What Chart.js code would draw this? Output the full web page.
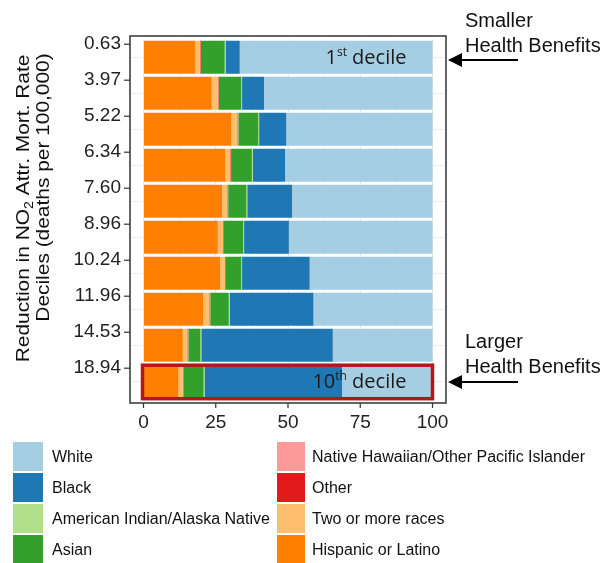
<!DOCTYPE html>
<html>
<head>
<meta charset="utf-8">
<script src="https://cdn.jsdelivr.net/npm/chart.js@4.4.1/dist/chart.umd.min.js"></script>
<style>
  body { margin: 0; background: #fff; }
  #wrap { position: relative; width: 609px; height: 563px; overflow: hidden; }
  #legend .box { position: absolute; width: 30px; height: 29px; }
  #legend .lab { position: absolute; font: 16px "Liberation Sans", Arial, sans-serif; color: #111; line-height: 29px; white-space: nowrap; }
</style>
</head>
<body>
<div id="wrap">
  <canvas id="chart" width="609" height="563"></canvas>
  <div id="legend"></div>
</div>
<script>
// decile labels (reduction in NO2 attributable mortality rate, deaths per 100,000)
const deciles = ['0.63', '3.97', '5.22', '6.34', '7.60', '8.96', '10.24', '11.96', '14.53', '18.94'];

// share of population in each decile (%)
const hispanic = [17.8, 23.6, 30.4, 28.3, 27.2, 25.7, 26.5, 20.7, 13.6, 12.1];
const twoOrMore = [1.8, 2.1, 2.1, 1.7, 1.8, 1.8, 1.7, 2.1, 1.6, 1.5];
const other = [0.2, 0.2, 0.2, 0.2, 0.2, 0.2, 0.2, 0.2, 0.2, 0.2];
const nhpi = [0.1, 0.1, 0.1, 0.1, 0.1, 0.1, 0.1, 0.1, 0.1, 0.1];
const asian = [8.2, 7.8, 6.9, 7.2, 6.3, 6.7, 5.3, 6.4, 4.2, 6.9];
const aian = [0.3, 0.3, 0.3, 0.3, 0.3, 0.3, 0.3, 0.3, 0.3, 0.3];
const black = [4.9, 7.6, 9.4, 11.2, 15.5, 15.5, 23.4, 29.0, 45.5, 47.6];
const white = [66.7, 58.3, 50.6, 51.0, 48.6, 49.7, 42.5, 41.2, 34.5, 31.3];

const xTickValues = [0, 25, 50, 75, 100];
const xGridValues = [0, 12.5, 25, 37.5, 50, 62.5, 75, 87.5, 100];

// drawn left to right
const series = [
  { name: 'Hispanic or Latino', data: hispanic, color: '#ff7f00' },
  { name: 'Two or more races', data: twoOrMore, color: '#fdbf6f' },
  { name: 'Other', data: other, color: '#e31a1c' },
  { name: 'Native Hawaiian/Other Pacific Islander', data: nhpi, color: '#fb9a99' },
  { name: 'Asian', data: asian, color: '#33a02c' },
  { name: 'American Indian/Alaska Native', data: aian, color: '#b2df8a' },
  { name: 'Black', data: black, color: '#1f78b4' },
  { name: 'White', data: white, color: '#a6cee3' }
];

// legend columns, same order as the original
const legendCols = [
  ['White', 'Black', 'American Indian/Alaska Native', 'Asian'],
  ['Native Hawaiian/Other Pacific Islander', 'Other', 'Two or more races', 'Hispanic or Latino']
];

const FONT = '"Liberation Sans", Arial, sans-serif';

//-------------------- extra drawing: panel box, ticks, titles, arrows --------------------
const decorations = {
  id: 'decorations',
  afterDraw(chart) {
    const ctx = chart.ctx;
    const xs = chart.scales.x, ys = chart.scales.y;
    ctx.save();

    // panel border
    ctx.strokeStyle = '#333';
    ctx.lineWidth = 1.5;
    ctx.strokeRect(130, 36, 316, 367);

    // tick marks
    ctx.lineWidth = 1.2;
    deciles.forEach((d, i) => {
      const y = ys.getPixelForValue(i) - 13;
      ctx.beginPath(); ctx.moveTo(124, y); ctx.lineTo(130, y); ctx.stroke();
    });
    xTickValues.forEach(v => {
      const x = xs.getPixelForValue(v);
      ctx.beginPath(); ctx.moveTo(x, 403); ctx.lineTo(x, 408); ctx.stroke();
    });

    // highlight box around last decile
    const yLast = ys.getPixelForValue(deciles.length - 1);
    ctx.strokeStyle = '#b8151b';
    ctx.lineWidth = 3.5;
    const bx0 = xs.getPixelForValue(0) - 1, bx1 = xs.getPixelForValue(100);
    ctx.strokeRect(bx0, yLast - 16, bx1 - bx0, 33.5);

    // decile labels inside the bars
    function decileLabel(num, sup, rowIdx) {
      const yc = ys.getPixelForValue(rowIdx) + 7;
      const right = xs.getPixelForValue(91);
      ctx.fillStyle = '#1a1a1a';
      ctx.textBaseline = 'alphabetic';
      ctx.textAlign = 'left';
      ctx.font = '20px "Open Sans", sans-serif';
      const w1 = ctx.measureText(num).width;
      const w3 = ctx.measureText(' decile').width;
      ctx.font = '12px "Open Sans", sans-serif';
      const w2 = ctx.measureText(sup).width;
      let x = right - w1 - w2 - w3;
      ctx.font = '20px "Open Sans", sans-serif';
      ctx.fillText(num, x, yc); x += w1;
      ctx.font = '12px "Open Sans", sans-serif';
      ctx.fillText(sup, x, yc - 8); x += w2;
      ctx.font = '20px "Open Sans", sans-serif';
      ctx.fillText(' decile', x, yc);
    }
    decileLabel('1', 'st', 0);
    decileLabel('10', 'th', deciles.length - 1);

    // y axis title, two lines, rotated (slightly stretched like the original)
    ctx.fillStyle = '#111';
    const big = '19px ' + FONT, small = '13px ' + FONT;
    ctx.save();
    ctx.translate(24, 208.5);
    ctx.rotate(-Math.PI / 2);
    ctx.scale(1.1, 1);
    ctx.textBaseline = 'middle';
    ctx.textAlign = 'left';
    ctx.font = big;
    const a = 'Reduction in NO', c = ' Attr. Mort. Rate';
    const wa = ctx.measureText(a).width, wc = ctx.measureText(c).width;
    ctx.font = small;
    const wb = ctx.measureText('2').width;
    let tx = -(wa + wb + wc) / 2;
    ctx.font = big; ctx.fillText(a, tx, 0); tx += wa;
    ctx.font = small; ctx.fillText('2', tx, 5); tx += wb;
    ctx.font = big; ctx.fillText(c, tx, 0);
    ctx.restore();
    ctx.save();
    ctx.translate(44, 187.5);
    ctx.rotate(-Math.PI / 2);
    ctx.scale(1.1, 1);
    ctx.textBaseline = 'middle';
    ctx.textAlign = 'center';
    ctx.font = big;
    ctx.fillText('Deciles (deaths per 100,000)', 0, 0);
    ctx.restore();

    // arrows with captions on the right
    function arrow(y) {
      ctx.strokeStyle = '#000';
      ctx.fillStyle = '#000';
      ctx.lineWidth = 2;
      ctx.beginPath(); ctx.moveTo(518, y); ctx.lineTo(458, y); ctx.stroke();
      ctx.beginPath();
      ctx.moveTo(448, y); ctx.lineTo(462, y - 7); ctx.lineTo(462, y + 7); ctx.closePath();
      ctx.fill();
    }
    arrow(60);
    arrow(382);
    ctx.fillStyle = '#111';
    ctx.font = '20px ' + FONT;
    ctx.textAlign = 'left';
    ctx.textBaseline = 'alphabetic';
    ctx.fillText('Smaller', 465, 27);
    ctx.fillText('Health Benefits', 465, 52);
    ctx.fillText('Larger', 465, 348);
    ctx.fillText('Health Benefits', 465, 373);

    ctx.restore();
  }
};

const ctx = document.getElementById('chart').getContext('2d');
new Chart(ctx, {
  type: 'bar',
  data: {
    labels: deciles,
    datasets: series.map(s => ({
      label: s.name,
      data: s.data,
      backgroundColor: s.color,
      borderWidth: 0,
      barPercentage: 0.92,
      categoryPercentage: 1
    }))
  },
  options: {
    indexAxis: 'y',
    responsive: false,
    animation: false,
    layout: { padding: { left: 0, top: 39.2, right: 163, bottom: 0 } },
    plugins: { legend: { display: false }, tooltip: { enabled: false } },
    scales: {
      x: {
        type: 'linear',
        stacked: true,
        min: -4.67,
        max: 104.67,
        border: { display: false },
        afterBuildTicks: scale => { scale.ticks = xGridValues.map(v => ({ value: v })); },
        afterFit: scale => { scale.height = 563 - 399.2; },
        grid: {
          color: c => (c.tick && c.tick.value % 25 === 0) ? '#e6e6e6' : '#f3f3f3',
          lineWidth: 1,
          tickLength: 8,
          tickColor: 'rgba(0,0,0,0)'
        },
        ticks: {
          autoSkip: false,
          maxRotation: 0,
          padding: 4,
          color: '#222',
          font: { family: FONT, size: 19 },
          callback: v => (v % 25 === 0) ? String(v) : ''
        }
      },
      y: {
        stacked: true,
        border: { display: false },
        afterFit: scale => { scale.width = 130; },
        grid: {
          offset: false,
          color: '#ececec',
          tickLength: 5,
          tickColor: 'rgba(0,0,0,0)'
        },
        ticks: {
          padding: 4,
          labelOffset: -13,
          color: '#222',
          font: { family: FONT, size: 19 }
        }
      }
    }
  },
  plugins: [decorations]
});

//-------------------- legend as html --------------------
const legend = document.getElementById('legend');
const colX = [{ box: 13, text: 52 }, { box: 277, text: 312 }];
const rowY = [442, 473, 504, 535];
legendCols.forEach((names, ci) => {
  names.forEach((name, ri) => {
    const s = series.find(item => item.name === name);
    const box = document.createElement('div');
    box.className = 'box';
    box.style.left = colX[ci].box + 'px';
    box.style.top = rowY[ri] + 'px';
    box.style.background = s.color;
    if (ci === 1) box.style.width = '28px';
    const lab = document.createElement('div');
    lab.className = 'lab';
    lab.style.left = colX[ci].text + 'px';
    lab.style.top = rowY[ri] + 'px';
    lab.textContent = name;
    legend.appendChild(box);
    legend.appendChild(lab);
  });
});
</script>
</body>
</html>
